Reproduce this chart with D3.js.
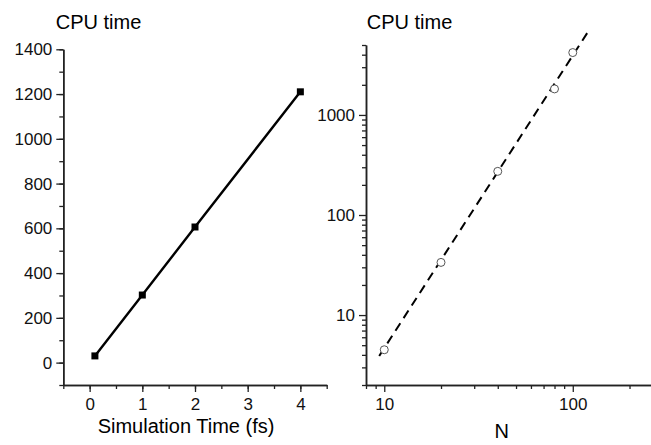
<!DOCTYPE html>
<html>
<head>
<meta charset="utf-8">
<script src="https://cdn.jsdelivr.net/npm/d3@7"></script>
<style>
  body { margin: 0; background: #fff; }
  svg { display: block; font-family: "Liberation Sans", Arial, sans-serif; }
</style>
</head>
<body>
<svg id="chart" width="651" height="445"></svg>
<script>
// left panel: CPU time vs simulation time
const simTime = [0.1, 1, 2, 4]
const cpuLinear = [30, 302, 606, 1210]

// right panel: CPU time vs N (log-log)
const sizeN = [10, 20, 40, 80, 100]
const cpuLog = [4.5, 33.6, 273, 1820, 4200]
// dashed fit line, read from its two ends
const fitN = [9.4, 120]
const fitCpu = [3.9, 6700]

const leftYTicks = [0, 200, 400, 600, 800, 1000, 1200, 1400]
const leftXTicks = [0, 1, 2, 3, 4]
const rightYTicks = [10, 100, 1000]
const rightXTicks = [10, 100]

const svg = d3.select("#chart")
const tickFont = "17px"
const titleFont = "20px"
const fmt = d3.format("d")

function styleAxis(g) {
    g.attr("font-family", null).attr("font-size", tickFont)
    g.select(".domain").attr("stroke", "#222").attr("stroke-width", 1.5)
    g.selectAll(".tick line").attr("stroke", "#222").attr("stroke-width", 1.3)
    g.selectAll(".tick text").attr("fill", "#111")
}

// ---- left panel ----
const x1 = d3.scaleLinear().domain([-0.5, 4.5]).range([63.3, 326.7])
const y1 = d3.scaleLinear().domain([-100, 1400]).range([385, 49.3])

const left = svg.append("g")

left.append("g")
    .attr("transform", `translate(0,${y1.range()[0]})`)
    .call(d3.axisBottom(x1).tickValues(d3.range(-0.5, 4.6, 0.5)).tickSize(4).tickSizeOuter(0).tickFormat(""))
    .call(styleAxis)
left.append("g")
    .attr("transform", `translate(0,${y1.range()[0]})`)
    .call(d3.axisBottom(x1).tickValues(leftXTicks).tickSize(7).tickPadding(6).tickSizeOuter(0).tickFormat(fmt))
    .call(styleAxis)

left.append("g")
    .attr("transform", `translate(${x1.range()[0]},0)`)
    .call(d3.axisLeft(y1).tickValues(d3.range(-100, 1401, 100)).tickSize(4).tickSizeOuter(0).tickFormat(""))
    .call(styleAxis)
left.append("g")
    .attr("transform", `translate(${x1.range()[0]},0)`)
    .call(d3.axisLeft(y1).tickValues(leftYTicks).tickSize(7).tickPadding(4).tickSizeOuter(0).tickFormat(fmt))
    .call(styleAxis)

const pts1 = simTime.map((t, i) => [t, cpuLinear[i]])
left.append("path")
    .datum(pts1)
    .attr("fill", "none")
    .attr("stroke", "#000")
    .attr("stroke-width", 2.4)
    .attr("d", d3.line().x(d => x1(d[0])).y(d => y1(d[1])))
left.selectAll("rect.pt")
    .data(pts1)
    .join("rect")
    .attr("class", "pt")
    .attr("x", d => x1(d[0]) - 3.5)
    .attr("y", d => y1(d[1]) - 3.5)
    .attr("width", 7)
    .attr("height", 7)
    .attr("fill", "#000")

left.append("text")
    .attr("x", 55.7).attr("y", 29)
    .attr("font-size", titleFont)
    .text("CPU time")
left.append("text")
    .attr("x", 186).attr("y", 433)
    .attr("text-anchor", "middle")
    .attr("font-size", titleFont)
    .text("Simulation Time (fs)")

// ---- right panel ----
const x2 = d3.scaleLog().domain([8, 260]).range([366, 651])
const y2 = d3.scaleLog().domain([2, 5000]).range([385, 45])

const right = svg.append("g")

const minorX = [8, 9, 20, 30, 40, 50, 60, 70, 80, 90, 200]
const minorY = [2, 3, 4, 5, 6, 7, 8, 9, 20, 30, 40, 50, 60, 70, 80, 90,
    200, 300, 400, 500, 600, 700, 800, 900, 2000, 3000, 4000, 5000]

right.append("g")
    .attr("transform", `translate(0,${y2.range()[0]})`)
    .call(d3.axisBottom(x2).tickValues(minorX).tickSize(4).tickSizeOuter(0).tickFormat(""))
    .call(styleAxis)
right.append("g")
    .attr("transform", `translate(0,${y2.range()[0]})`)
    .call(d3.axisBottom(x2).tickValues(rightXTicks).tickSize(7).tickPadding(6).tickSizeOuter(0).tickFormat(fmt))
    .call(styleAxis)

right.append("g")
    .attr("transform", `translate(${x2.range()[0]},0)`)
    .call(d3.axisLeft(y2).tickValues(minorY).tickSize(4).tickSizeOuter(0).tickFormat(""))
    .call(styleAxis)
right.append("g")
    .attr("transform", `translate(${x2.range()[0]},0)`)
    .call(d3.axisLeft(y2).tickValues(rightYTicks).tickSize(7).tickPadding(4).tickSizeOuter(0).tickFormat(fmt))
    .call(styleAxis)

right.append("path")
    .datum(fitN.map((n, i) => [n, fitCpu[i]]))
    .attr("fill", "none")
    .attr("stroke", "#000")
    .attr("stroke-width", 2)
    .attr("stroke-dasharray", "9,6")
    .attr("d", d3.line().x(d => x2(d[0])).y(d => y2(d[1])))

right.selectAll("circle.pt")
    .data(sizeN.map((n, i) => [n, cpuLog[i]]))
    .join("circle")
    .attr("class", "pt")
    .attr("cx", d => x2(d[0]))
    .attr("cy", d => y2(d[1]))
    .attr("r", 4)
    .attr("fill", "#fff")
    .attr("stroke", "#555")
    .attr("stroke-width", 1)

right.append("text")
    .attr("x", 366.7).attr("y", 28.5)
    .attr("font-size", titleFont)
    .text("CPU time")
right.append("text")
    .attr("x", 501.7).attr("y", 438)
    .attr("text-anchor", "middle")
    .attr("font-size", titleFont)
    .text("N")
</script>
</body>
</html>
